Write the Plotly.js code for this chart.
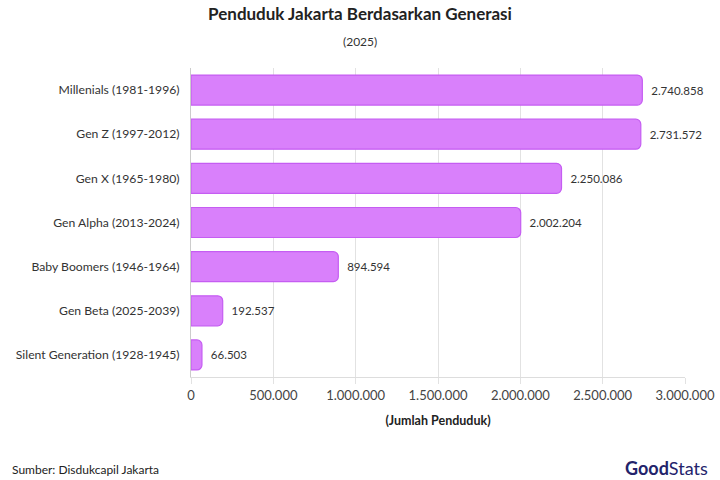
<!DOCTYPE html>
<html>
<head>
<meta charset="utf-8">
<script src="https://cdn.plot.ly/plotly-3.0.1.min.js"></script>
<style>html,body{margin:0;padding:0;background:#fff;}#chart{width:720px;height:480px;}</style>
</head>
<body>
<div id="chart"></div>
<script>
const categories = [
  "Millenials (1981-1996)",
  "Gen Z (1997-2012)",
  "Gen X (1965-1980)",
  "Gen Alpha (2013-2024)",
  "Baby Boomers (1946-1964)",
  "Gen Beta (2025-2039)",
  "Silent Generation (1928-1945)"
];
const population = [2740858, 2731572, 2250086, 2002204, 894594, 192537, 66503];
const tickValues = [0, 500000, 1000000, 1500000, 2000000, 2500000, 3000000];

const FONT = "Lato, 'Open Sans', sans-serif";

const trace = {
  type: "bar",
  orientation: "h",
  y: categories,
  x: population,
  width: 0.68,
  marker: {
    color: "#d980fb",
    line: {color: "#c55df2", width: 1.2},
    cornerradius: 5
  },
  texttemplate: "\u00a0\u00a0%{x:,}",
  textposition: "outside",
  cliponaxis: false,
  textfont: {family: FONT, size: 11.5, color: "#333333"},
  hoverinfo: "none"
};

const layout = {
  width: 720,
  height: 480,
  margin: {l: 191, r: 35, t: 68, b: 103},
  paper_bgcolor: "#ffffff",
  plot_bgcolor: "#ffffff",
  separators: ",.",
  showlegend: false,
  font: {family: FONT, color: "#333333", size: 12},
  title: {
    text: "<b>Penduduk Jakarta Berdasarkan Generasi</b>",
    font: {family: FONT, size: 17, color: "#222222"},
    x: 0.5, xanchor: "center", y: 0.97, yanchor: "middle"
  },
  xaxis: {
    range: [0, 3000000],
    tickvals: tickValues,
    tickformat: ",",
    showgrid: true,
    gridcolor: "#e2e2e2",
    zeroline: false,
    showline: true,
    linecolor: "#dddddd",
    ticks: "outside",
    ticklen: 6,
    tickcolor: "#e2e2e2",
    tickfont: {family: FONT, size: 13, color: "#444444"},
    title: {text: "<b>(Jumlah Penduduk)</b>", font: {family: FONT, size: 12.5, color: "#222222"}, standoff: 14},
    fixedrange: true
  },
  yaxis: {
    autorange: "reversed",
    showline: true,
    linecolor: "#cccccc",
    ticks: "",
    ticklabelstandoff: 8,
    tickfont: {family: FONT, size: 12.2, color: "#333333"},
    fixedrange: true
  },
  annotations: [
    {text: "(2025)", xref: "paper", yref: "paper", x: 0.342, y: 1.085, xanchor: "center", yanchor: "middle",
     showarrow: false, font: {family: FONT, size: 12, color: "#333333"}},
    {text: "Sumber: Disdukcapil Jakarta", xref: "paper", yref: "paper", x: -0.366, y: -0.298, xanchor: "left", yanchor: "middle",
     showarrow: false, font: {family: FONT, size: 12, color: "#222222"}},
    {text: "<b>Good</b>Stats", xref: "paper", yref: "paper", x: 1.05, y: -0.294, xanchor: "right", yanchor: "middle",
     showarrow: false, font: {family: FONT, size: 18, color: "#23236b"}}
  ]
};

Plotly.newPlot("chart", [trace], layout, {displayModeBar: false, staticPlot: true});
</script>
</body>
</html>
